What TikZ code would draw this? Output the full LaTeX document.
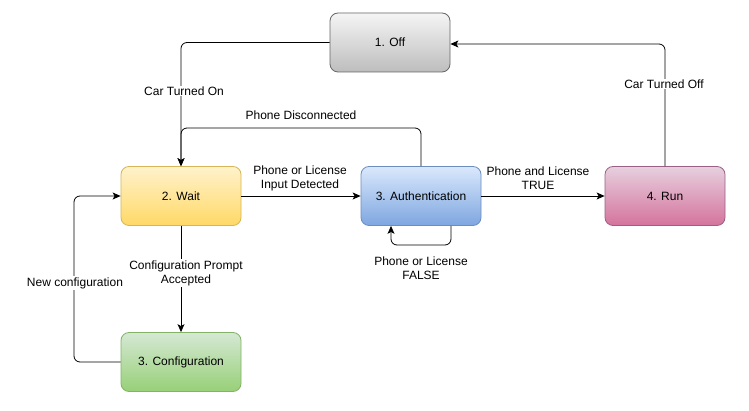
\documentclass[tikz,border=0pt]{standalone}
\usepackage{fontspec}
\setmainfont{Liberation Sans}
\usetikzlibrary{arrows.meta}
\definecolor{offT}{HTML}{F5F5F5}\definecolor{offB}{HTML}{BDBDBD}\definecolor{offD}{HTML}{666666}
\definecolor{waitT}{HTML}{FFF2CC}\definecolor{waitB}{HTML}{FFD966}\definecolor{waitD}{HTML}{D6B656}
\definecolor{authT}{HTML}{DAE8FC}\definecolor{authB}{HTML}{7EA6E0}\definecolor{authD}{HTML}{6C8EBF}
\definecolor{runT}{HTML}{E6D0DE}\definecolor{runB}{HTML}{D5739D}\definecolor{runD}{HTML}{996185}
\definecolor{cfgT}{HTML}{D5E8D4}\definecolor{cfgB}{HTML}{97D077}\definecolor{cfgD}{HTML}{82B366}
\tikzset{
  state/.style={rectangle, rounded corners=8pt, minimum width=120pt, minimum height=59pt,
    inner sep=0pt, font=\fontsize{12pt}{14pt}\selectfont, line width=0.8pt},
  offs/.style={state, draw=offD, top color=offT, bottom color=offB},
  waits/.style={state, draw=waitD, top color=waitT, bottom color=waitB},
  auths/.style={state, draw=authD, top color=authT, bottom color=authB},
  runs/.style={state, draw=runD, top color=runT, bottom color=runB},
  cfgs/.style={state, draw=cfgD, top color=cfgT, bottom color=cfgB},
  conn/.style={draw=black, line width=0.8pt, rounded corners=6pt, -{Stealth[length=8pt,width=7pt,inset=2pt]}},
  lab/.style={font=\fontsize{12pt}{14pt}\selectfont, align=center, inner sep=1pt, fill=white},
}
\begin{document}
\begin{tikzpicture}[x=1pt,y=-1pt]
\useasboundingbox[fill=white] (0,0) rectangle (749,411);
\node[offs] (off) at (390,42.5) {1. Off};
\node[waits] (wait) at (181,196) {2. Wait};
\node[auths] (auth) at (421,196) {3. Authentication};
\node[runs] (run) at (665,196) {4. Run};
\node[cfgs] (cfg) at (181,362) {3. Configuration};
\coordinate (c1) at (181,42.5);
\coordinate (c2) at (421,128);
\coordinate (c3) at (181,128);
\coordinate (c4) at (451,245);
\coordinate (c5) at (391,245);
\coordinate (c6) at (665,44);
\coordinate (c7) at (74,362);
\coordinate (c8) at (74,196);
\draw[conn] (off.west) -- (c1) -- (wait.north);
\draw[conn] (auth.north) -- (c2) -- (c3) -- (wait.north);
\draw[conn] (wait.east) -- (auth.west);
\draw[conn] ([xshift=30pt]auth.south) -- (c4) -- (c5) -- ([xshift=-30pt]auth.south);
\draw[conn] (auth.east) -- (run.west);
\draw[conn] (run.north) -- (c6) -- (off.east |- c6);
\draw[conn] (wait.south) -- (cfg.north);
\draw[conn] (cfg.west) -- (c7) -- (c8) -- (wait.west);
\node[lab] (l1) at (184,91) {Car Turned On};
\node[lab] (l2) at (301,115) {Phone Disconnected};
\node[lab, fill=none] (l3) at (300,178) {Phone or License\\Input Detected};
\node[lab, fill=none] (l4) at (421,268) {Phone or License\\FALSE};
\node[lab, fill=none] (l5) at (538,178) {Phone and License\\TRUE};
\node[lab] (l6) at (664,84) {Car Turned Off};
\node[lab] (l7) at (186,273) {Configuration Prompt\\Accepted};
\node[lab] (l8) at (75,283) {New configuration};
\end{tikzpicture}
\end{document}
